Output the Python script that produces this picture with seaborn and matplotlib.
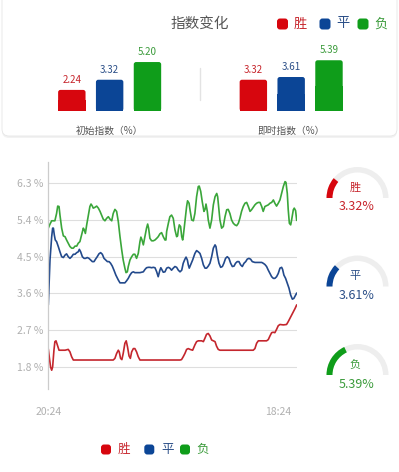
import numpy as np
import pandas as pd
import matplotlib
matplotlib.use("Agg")
import matplotlib.pyplot as plt
from matplotlib.patches import Wedge, FancyBboxPatch, Rectangle
import seaborn as sns

# ---- data ----
outcomes = ["胜", "平", "负"]
groups = ["初始指数（%）", "即时指数（%）"]
initial_vals = [2.24, 3.32, 5.20]
current_vals = [3.32, 3.61, 5.39]
gauge_max = 15

y_ticks = [1.8, 2.7, 3.6, 4.5, 5.4, 6.3]
time_ticks = [0, 1221]
time_labels = ["20:24", "18:24"]

t_red = [0, 5, 12, 18, 23, 30, 35, 41, 48, 57, 71, 89, 106, 115, 124, 133, 142, 345, 354, 363,
         372, 377, 384, 391, 398, 407, 414, 421, 429, 436, 443, 452, 460, 469, 478, 487, 700, 708, 717, 726,
         735, 744, 753, 767, 779, 788, 797, 815, 824, 832, 841, 850, 859, 868, 877, 886, 894, 903, 912, 1089,
         1098, 1107, 1116, 1160, 1169, 1178, 1187, 1195, 1204, 1213, 1222, 1231, 1249, 1266, 1275, 1284, 1293, 1302, 1311, 1320]
v_red = [2.24, 2.05, 1.80, 1.72, 1.80, 2.21, 2.42, 2.44, 2.34, 2.21, 2.21, 2.21, 2.23, 2.17, 2.05, 1.97, 1.97, 1.97, 2.01, 2.13,
         2.21, 2.17, 2.01, 1.98, 2.13, 2.38, 2.44, 2.29, 2.07, 2.01, 2.17, 2.25, 2.25, 2.17, 2.05, 1.97, 1.97, 1.98, 2.05, 2.13,
         2.23, 2.25, 2.23, 2.21, 2.34, 2.42, 2.44, 2.44, 2.42, 2.50, 2.60, 2.62, 2.56, 2.46, 2.44, 2.42, 2.31, 2.23, 2.21, 2.21,
         2.25, 2.38, 2.44, 2.44, 2.47, 2.56, 2.64, 2.65, 2.64, 2.72, 2.81, 2.84, 2.83, 2.84, 2.91, 2.99, 3.07, 3.15, 3.23, 3.32]

t_blue = [0, 9, 18, 23, 27, 32, 37, 44, 53, 62, 71, 80, 89, 97, 106, 115, 124, 133, 142, 151,
          159, 165, 172, 181, 190, 198, 207, 216, 225, 234, 243, 251, 260, 269, 278, 287, 296, 305, 314, 323,
          331, 340, 349, 359, 372, 381, 390, 398, 407, 416, 425, 434, 443, 452, 460, 487, 505, 514, 522, 531,
          540, 549, 558, 567, 576, 584, 593, 598, 605, 611, 620, 629, 638, 646, 655, 664, 673, 682, 691, 700,
          709, 717, 726, 732, 739, 744, 749, 756, 767, 779, 788, 797, 806, 815, 824, 833, 841, 850, 859, 868,
          877, 886, 891, 898, 907, 916, 925, 933, 942, 951, 960, 969, 978, 987, 995, 1004, 1013, 1022, 1031, 1040,
          1049, 1057, 1066, 1075, 1084, 1098, 1116, 1134, 1142, 1151, 1160, 1169, 1178, 1187, 1196, 1204, 1213, 1222, 1231, 1240,
          1245, 1252, 1261, 1270, 1279, 1288, 1297, 1305, 1314, 1320]
v_blue = [3.32, 4.42, 4.99, 5.20, 5.20, 5.03, 4.91, 4.87, 4.75, 4.62, 4.50, 4.48, 4.54, 4.57, 4.50, 4.46, 4.50, 4.56, 4.56, 4.60,
          4.62, 4.68, 4.62, 4.50, 4.46, 4.46, 4.48, 4.46, 4.42, 4.38, 4.38, 4.44, 4.50, 4.57, 4.60, 4.56, 4.46, 4.42, 4.38, 4.38,
          4.34, 4.27, 4.17, 4.05, 3.93, 3.86, 3.86, 3.86, 3.86, 3.91, 3.97, 4.05, 4.11, 4.13, 4.11, 4.11, 4.13, 4.19, 4.23, 4.24,
          4.24, 4.23, 4.24, 4.23, 4.13, 4.01, 4.17, 4.23, 4.17, 4.12, 4.13, 4.22, 4.24, 4.22, 4.17, 4.22, 4.26, 4.24, 4.17, 4.13,
          4.17, 4.34, 4.44, 4.49, 4.42, 4.30, 4.22, 4.30, 4.42, 4.58, 4.65, 4.62, 4.58, 4.46, 4.30, 4.22, 4.22, 4.27, 4.34, 4.50,
          4.71, 4.79, 4.75, 4.54, 4.34, 4.24, 4.26, 4.34, 4.46, 4.50, 4.46, 4.34, 4.26, 4.27, 4.34, 4.38, 4.38, 4.30, 4.26, 4.34,
          4.38, 4.44, 4.46, 4.44, 4.38, 4.36, 4.36, 4.36, 4.34, 4.31, 4.26, 4.17, 4.09, 4.01, 3.97, 3.97, 4.01, 4.09, 4.22, 4.24,
          4.19, 4.05, 3.97, 3.85, 3.73, 3.56, 3.46, 3.48, 3.56, 3.61]

t_green = [0, 9, 18, 27, 35, 44, 50, 57, 62, 71, 80, 89, 97, 106, 115, 124, 133, 142, 151, 159,
           168, 177, 186, 191, 197, 204, 213, 221, 227, 234, 239, 248, 257, 266, 275, 283, 292, 301, 310, 319,
           328, 337, 345, 354, 363, 372, 381, 390, 398, 407, 413, 420, 425, 434, 443, 452, 460, 469, 478, 487,
           492, 498, 505, 514, 522, 528, 533, 540, 549, 558, 567, 576, 584, 593, 602, 611, 620, 625, 629, 638,
           646, 655, 664, 673, 682, 687, 691, 696, 703, 709, 714, 717, 726, 735, 740, 748, 753, 762, 771, 779,
           788, 797, 802, 810, 818, 827, 833, 838, 845, 850, 859, 868, 877, 886, 895, 900, 907, 912, 921, 930,
           939, 948, 956, 965, 974, 983, 992, 1001, 1010, 1018, 1027, 1036, 1045, 1054, 1063, 1072, 1080, 1089, 1098, 1107,
           1116, 1125, 1134, 1142, 1151, 1160, 1169, 1178, 1187, 1196, 1204, 1213, 1222, 1231, 1240, 1249, 1258, 1263, 1270, 1275,
           1281, 1288, 1293, 1302, 1307, 1314, 1320]
v_green = [5.20, 5.30, 5.38, 5.38, 5.38, 5.56, 5.74, 5.73, 5.52, 5.20, 5.01, 4.99, 4.91, 4.83, 4.75, 4.71, 4.71, 4.76, 4.76, 4.83,
           4.87, 5.03, 5.20, 5.16, 5.07, 5.28, 5.52, 5.73, 5.79, 5.74, 5.69, 5.71, 5.74, 5.69, 5.61, 5.52, 5.42, 5.38, 5.44, 5.48,
           5.42, 5.38, 5.56, 5.66, 5.61, 5.36, 4.99, 4.67, 4.42, 4.22, 4.11, 4.13, 4.26, 4.42, 4.50, 4.56, 4.56, 4.46, 4.58, 4.87,
           4.98, 4.91, 4.79, 5.01, 5.20, 5.30, 5.20, 4.95, 4.89, 4.89, 4.91, 4.95, 4.99, 5.06, 5.09, 4.99, 4.91, 4.91, 5.12, 5.32,
           5.48, 5.52, 5.44, 5.16, 4.99, 5.01, 5.16, 5.28, 5.24, 4.99, 4.91, 4.99, 5.36, 5.73, 5.87, 5.81, 5.65, 5.40, 5.38, 5.56,
           5.97, 6.22, 6.23, 6.10, 5.85, 5.61, 5.66, 5.79, 5.61, 5.40, 5.20, 5.40, 5.77, 5.97, 6.05, 5.97, 5.65, 5.40, 5.20, 5.24,
           5.48, 5.65, 5.66, 5.56, 5.40, 5.32, 5.28, 5.26, 5.32, 5.44, 5.61, 5.73, 5.81, 5.83, 5.73, 5.61, 5.65, 5.71, 5.77, 5.81,
           5.83, 5.83, 5.73, 5.61, 5.73, 5.75, 5.77, 5.81, 5.83, 5.89, 5.81, 5.74, 5.81, 5.89, 6.05, 6.22, 6.34, 6.32, 6.05, 5.65,
           5.32, 5.28, 5.40, 5.65, 5.69, 5.63, 5.39]

# ---- colours ----
bar_colors = ["#d7060e", "#0b4596", "#0f9d1a"]
text_colors = ["#c7252c", "#2b4f88", "#3b9b3b"]
line_colors = ["#c4262d", "#234a8c", "#3aa63a"]

sns.set_theme(style="white")
plt.rcParams["font.family"] = ["Noto Sans CJK SC", "DejaVu Sans"]

fig = plt.figure(figsize=(3.99, 4.72), dpi=100)
fig.patch.set_facecolor("white")

# pixel overlay for card, legends and gauges
ov = fig.add_axes([0, 0, 1, 1], zorder=0)
ov.set_xlim(0, 399)
ov.set_ylim(472, 0)
ov.axis("off")

# top card
ov.add_patch(FancyBboxPatch((2, -10), 395, 148, boxstyle="round,pad=0,rounding_size=7",
                            fc="#f2f2f2", ec="none"))
ov.add_patch(FancyBboxPatch((2, -10), 395, 146, boxstyle="round,pad=0,rounding_size=7",
                            fc="white", ec="#e6e6e6", lw=0.6))
ov.text(200, 24, "指数变化", ha="center", va="center", fontsize=10.5, color="#555555")
for i, x in enumerate([282.5, 325, 363]):
    ov.add_patch(FancyBboxPatch((x - 5.5, 18.5), 11, 11, boxstyle="round,pad=0,rounding_size=3",
                                fc=bar_colors[i], ec="none"))
    ov.text(x + 11, 24, outcomes[i], ha="left", va="center", fontsize=9.5, color=text_colors[i])
ov.plot([200, 200], [68, 100], color="#e3e3e3", lw=1)

# bars
axb = fig.add_axes([0, 1 - 111 / 472, 1, 71 / 472], zorder=2)
axb.patch.set_alpha(0)
df_bar = pd.DataFrame({"group": np.repeat(groups, 3),
                       "outcome": outcomes * 2,
                       "value": initial_vals + current_vals})
sns.barplot(data=df_bar, x="group", y="value", hue="outcome", palette=bar_colors,
            saturation=1, width=0.625, gap=0.275, ax=axb, legend=False)
axb.set_xlim(-0.604, 1.594)
axb.set_ylim(0, 7.54)
for cont, c in zip(axb.containers, text_colors):
    axb.bar_label(cont, fmt="%.2f", padding=3.5, fontsize=7, color=c)
# round the bar tops
asp = (399 / 2.198) / (71 / 7.54)
for p in list(axb.patches):
    x0, y0, w, h = p.get_x(), p.get_y(), p.get_width(), p.get_height()
    fc = p.get_facecolor()
    p.set_visible(False)
    axb.add_patch(FancyBboxPatch((x0, y0), w, h, boxstyle="round,pad=0,rounding_size=0.013",
                                 mutation_aspect=asp, fc=fc, ec="none"))
    axb.add_patch(Rectangle((x0, y0), w, h / 2, fc=fc, ec="none"))
sns.despine(ax=axb, left=True, bottom=True)
axb.set_yticks([])
axb.set_xlabel("")
axb.set_ylabel("")
axb.tick_params(axis="x", length=0, pad=11, labelsize=7, labelcolor="#555555")

# line chart
axl = fig.add_axes([48.3 / 399, 1 - 389 / 472, 248.4 / 399, 227 / 472], zorder=2)
axl.patch.set_alpha(0)
df_line = pd.concat([
    pd.DataFrame({"t": t_red, "v": v_red, "name": "胜"}),
    pd.DataFrame({"t": t_blue, "v": v_blue, "name": "平"}),
    pd.DataFrame({"t": t_green, "v": v_green, "name": "负"}),
])
sns.lineplot(data=df_line, x="t", y="v", hue="name", palette=dict(zip(outcomes, line_colors)),
             estimator=None, lw=1.2, legend=False, ax=axl)
axl.set_xlim(0, 1320)
axl.set_ylim(1.26, 6.82)
axl.set_yticks(y_ticks)
axl.set_yticklabels([f"{v:.1f} %" for v in y_ticks])
axl.set_xticks(time_ticks)
axl.set_xticklabels(time_labels)
axl.grid(axis="y", color="#dedede", lw=0.8)
axl.grid(axis="x", visible=False)
for s in ["top", "right", "bottom"]:
    axl.spines[s].set_visible(False)
axl.spines["left"].set_color("#cccccc")
axl.spines["left"].set_linewidth(0.9)
axl.tick_params(axis="both", length=0, labelsize=7.5, labelcolor="#b0b0b0")
axl.tick_params(axis="y", pad=3.5)
axl.tick_params(axis="x", pad=13)
axl.set_xlabel("")
axl.set_ylabel("")

# gauges
cx = 357.5
for i, cy in enumerate([198, 286.5, 375]):
    ov.add_patch(Wedge((cx, cy), 31, 180, 360, width=5.5, fc="#eeeeee", ec="none"))
    ov.add_patch(Wedge((cx, cy), 31, 180, 180 + current_vals[i] / gauge_max * 180,
                       width=6, fc=bar_colors[i], ec="none"))
    ov.text(355.5, cy - 10, outcomes[i], ha="center", va="center", fontsize=8, color=text_colors[i])
    ov.text(356.5, cy + 9, f"{current_vals[i]:.2f}%", ha="center", va="center", fontsize=9,
            color=text_colors[i])

# bottom legend
for i, x in enumerate([106, 149.3, 185]):
    ov.add_patch(FancyBboxPatch((x - 5, 444.5), 10, 10, boxstyle="round,pad=0,rounding_size=3",
                                fc=bar_colors[i], ec="none"))
    ov.text(x + 18, 449.5, outcomes[i], ha="center", va="center", fontsize=9, color=text_colors[i])

fig.savefig("out.png", dpi=100)
